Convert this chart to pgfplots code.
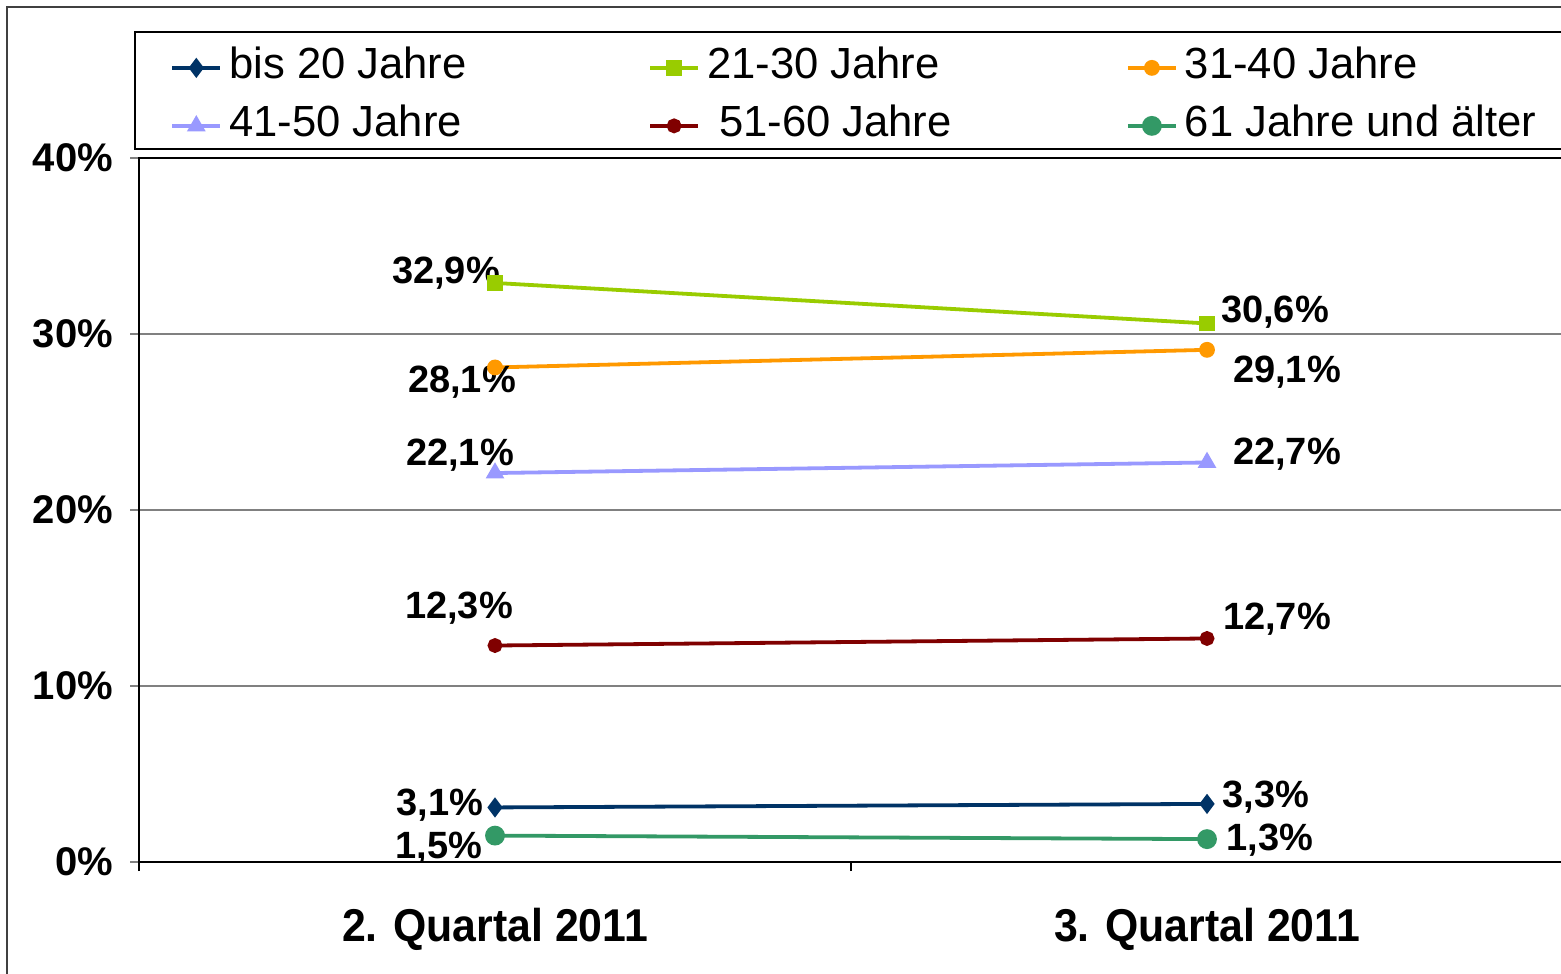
\documentclass[border=0pt]{standalone}
\usepackage{fontspec}
\setmainfont{Liberation Sans}
\newfontfamily\catfont[FakeStretch=0.93]{Liberation Sans}
\usepackage{pgfplots}
\pgfplotsset{compat=1.18}
\definecolor{cA}{RGB}{0,51,102}
\definecolor{cB}{RGB}{153,204,0}
\definecolor{cC}{RGB}{255,153,0}
\definecolor{cD}{RGB}{153,153,255}
\definecolor{cE}{RGB}{128,0,0}
\definecolor{cF}{RGB}{51,153,102}
\newcommand\lab{\fontsize{19}{21}\selectfont\bfseries}
\begin{document}
\begin{tikzpicture}
\useasboundingbox (0,0) rectangle (780.5pt,486.5pt);
\clip (0,0) rectangle (780.5pt,486.5pt);
\fill[white] (0,0) rectangle (780.5pt,486.5pt);
\draw[line width=1pt, black!75] (3.5pt,-10pt) -- (3.5pt,483pt) -- (800pt,483pt);
\begin{axis}[
  at={(69.5pt,55.5pt)}, anchor=south west,
  scale only axis, width=712pt, height=352pt,
  xmin=-0.5, xmax=1.5, ymin=0, ymax=40,
  xtick={-0.5,0.5,1.5}, x tick label as interval,
  xticklabels={2. Quartal 2011,3. Quartal 2011},
  ytick={0,10,20,30,40},
  yticklabels={0\%,10\%,20\%,30\%,40\%},
  xtick pos=bottom, ytick pos=left,
  tick align=outside, major tick length=4.5pt,
  xtick style={black, line width=0.75pt},
  ytick style={gray, line width=0.75pt},
  ymajorgrids, grid style={gray, line width=0.75pt},
  axis line style={black, line width=1pt},
  yticklabel style={font=\fontsize{20}{22}\selectfont\bfseries, xshift=-5pt},
  xticklabel style={font=\catfont\fontsize{23}{25}\selectfont\bfseries, yshift=-15pt},
  legend columns=3,
  legend style={at={(axis description cs:0.02177,1.157)}, anchor=north west,
    draw=none, fill=none, inner sep=0pt,
    font=\fontsize{21.8}{24}\selectfont,
    nodes={inner sep=0pt, text height=15.5pt, text depth=4.5pt},
    cells={anchor=west}, row sep=9pt,
    /tikz/every odd column/.append style={column sep=3.5pt}},
  legend image code/.code={\draw[mark repeat=2,mark phase=2] plot coordinates {(0pt,0pt)(12pt,0pt)(24pt,0pt)};},
]
\addplot[color=cA, line width=1.9pt, mark=diamond*, mark size=3.5pt] coordinates {(0,3.1) (1,3.3)}
  node[pos=0, xshift=-27.5pt, yshift=1pt, font=\lab, text=black] {3,1\%}
  node[pos=1, xshift=29.5pt, yshift=3.5pt, font=\lab, text=black] {3,3\%};
\addlegendentry{\makebox[209.5pt][l]{bis 20 Jahre}}
\addplot[color=cB, line width=1.9pt, mark=square*, mark size=3pt] coordinates {(0,32.9) (1,30.6)}
  node[pos=0, xshift=-24.5pt, yshift=5pt, font=\lab, text=black] {32,9\%}
  node[pos=1, xshift=34pt, yshift=5.5pt, font=\lab, text=black] {30,6\%};
\addlegendentry{\makebox[209.5pt][l]{21-30 Jahre}}
\addplot[color=cC, line width=1.9pt, mark=*, mark size=3pt] coordinates {(0,28.1) (1,29.1)}
  node[pos=0, xshift=-16.5pt, yshift=-7.5pt, font=\lab, text=black] {28,1\%}
  node[pos=1, xshift=40pt, yshift=-11pt, font=\lab, text=black] {29,1\%};
\addlegendentry{\makebox[190pt][l]{31-40 Jahre}}
\addplot[color=cD, line width=1.9pt, mark=triangle*, mark size=3.5pt] coordinates {(0,22.1) (1,22.7)}
  node[pos=0, xshift=-17.5pt, yshift=9pt, font=\lab, text=black] {22,1\%}
  node[pos=1, xshift=40pt, yshift=4pt, font=\lab, text=black] {22,7\%};
\addlegendentry{\makebox[209.5pt][l]{41-50 Jahre}}
\addplot[color=cE, line width=1.9pt, mark=*, mark size=2.75pt] coordinates {(0,12.3) (1,12.7)}
  node[pos=0, xshift=-18pt, yshift=18.5pt, font=\lab, text=black] {12,3\%}
  node[pos=1, xshift=35pt, yshift=9.5pt, font=\lab, text=black] {12,7\%};
\addlegendentry{\makebox[209.5pt][l]{\hspace{6pt}51-60 Jahre}}
\addplot[color=cF, line width=1.9pt, mark=*, mark size=4pt] coordinates {(0,1.5) (1,1.3)}
  node[pos=0, xshift=-28pt, yshift=-6.5pt, font=\lab, text=black] {1,5\%}
  node[pos=1, xshift=31.5pt, yshift=-0.5pt, font=\lab, text=black] {1,3\%};
\addlegendentry{\makebox[190pt][l]{61 Jahre und älter}}
\end{axis}
\draw[line width=0.75pt] (67.5pt,412pt) rectangle (800pt,470.5pt);
\end{tikzpicture}
\end{document}
